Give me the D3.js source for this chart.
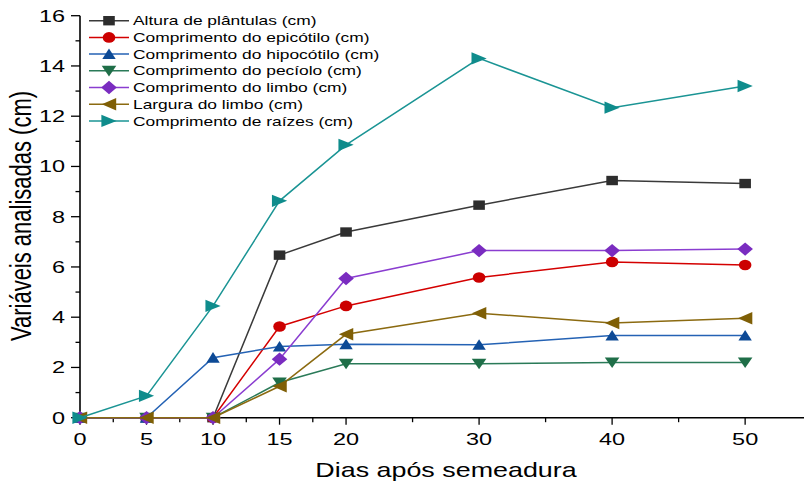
<!DOCTYPE html>
<html><head><meta charset="utf-8">
<script src="https://cdn.jsdelivr.net/npm/d3@7/dist/d3.min.js"></script>
<style>body{margin:0;background:#fff}svg{display:block}text{font-family:"Liberation Sans",Arial,sans-serif}</style>
</head><body>
<svg id="c" width="804" height="481"></svg>
<script>
const days = [0, 5, 10, 15, 20, 30, 40, 50];
const altura = [0, 0, 0, 6.47, 7.39, 8.46, 9.44, 9.32];
const epicotilo = [0, 0, 0, 3.63, 4.45, 5.58, 6.2, 6.08];
const hipocotilo = [0, 0, 2.39, 2.83, 2.92, 2.9, 3.27, 3.27];
const peciolo = [0, 0, 0, 1.4, 2.15, 2.15, 2.2, 2.2];
const limbo = [0, 0, 0, 2.33, 5.54, 6.65, 6.65, 6.71];
const largura = [0, 0, 0, 1.25, 3.32, 4.16, 3.77, 3.96];
const raizes = [0, 0.87, 4.45, 8.63, 10.86, 14.3, 12.34, 13.2];
const seriesNames = ["Altura de plântulas (cm)","Comprimento do epicótilo (cm)","Comprimento do hipocótilo (cm)","Comprimento do pecíolo (cm)","Comprimento do limbo (cm)","Largura do limbo (cm)","Comprimento de raízes (cm)"];
const xTickLabels = [0, 5, 10, 15, 20, 30, 40, 50];
const xMinorTicks = [2.5, 7.5, 12.5, 17.5, 25, 35, 45];
const yTickLabels = [0, 2, 4, 6, 8, 10, 12, 14, 16];

const seriesValues = [altura, epicotilo, hipocotilo, peciolo, limbo, largura, raizes];
const styles = [
  {line:"#3a3a3a", fill:"#2d2d2d", shape:"square"},
  {line:"#d40000", fill:"#cc0000", shape:"circle"},
  {line:"#2462b4", fill:"#0d4a96", shape:"up"},
  {line:"#2a7a58", fill:"#1f6e48", shape:"down"},
  {line:"#8a3dd0", fill:"#7a2cc0", shape:"diamond"},
  {line:"#8b6a10", fill:"#7f5f06", shape:"left"},
  {line:"#1a9494", fill:"#0f8c8c", shape:"right"}
];
const SX = 1.38;
const svg = d3.select("#c");
const x = d3.scaleLinear().domain([0, 54.5]).range([80, 805]);
const y = d3.scaleLinear().domain([0, 16]).range([417.7, 15.7]);

function shapePath(s){
  switch(s){
    case "square": return "M-5.8,-4.7H5.8V4.7H-5.8Z";
    case "circle": return "M-6.3,0A6.3,5.3 0 1,0 6.3,0A6.3,5.3 0 1,0 -6.3,0Z";
    case "up": return "M0,-5.6L6.7,5L-6.7,5Z";
    case "down": return "M0,5.6L7.3,-5L-7.3,-5Z";
    case "diamond": return "M0,-6.7L7.8,0L0,6.7L-7.8,0Z";
    case "left": return "M-7.2,0L7.2,-6.2L7.2,6.2Z";
    case "right": return "M7.6,0L-7.6,-6.2L-7.6,6.2Z";
  }
}

// axes
const gx = svg.append("g");
gx.append("line").attr("x1",80).attr("x2",804).attr("y1",y(0)).attr("y2",y(0)).attr("stroke","#000").attr("stroke-width",1.6);
xTickLabels.forEach(v=>{
  gx.append("line").attr("x1",x(v)).attr("x2",x(v)).attr("y1",y(0)).attr("y2",y(0)+7).attr("stroke","#000").attr("stroke-width",1.3);
  gx.append("text").attr("transform",`translate(${x(v)},445) scale(${SX},1)`).attr("text-anchor","middle").attr("font-size",17).text(v);
});
xMinorTicks.forEach(v=>{
  gx.append("line").attr("x1",x(v)).attr("x2",x(v)).attr("y1",y(0)).attr("y2",y(0)+4.5).attr("stroke","#000").attr("stroke-width",1.3);
});
const gy = svg.append("g");
gy.append("line").attr("x1",80).attr("x2",80).attr("y1",y(0)).attr("y2",y(16)).attr("stroke","#000").attr("stroke-width",1.6);
yTickLabels.forEach(v=>{
  gy.append("line").attr("x1",71).attr("x2",80).attr("y1",y(v)).attr("y2",y(v)).attr("stroke","#000").attr("stroke-width",1.3);
  gy.append("text").attr("transform",`translate(65,${y(v)+6}) scale(${SX},1)`).attr("text-anchor","end").attr("font-size",17).text(v);
});
for(let v=1; v<16; v+=2){
  gy.append("line").attr("x1",75.5).attr("x2",80).attr("y1",y(v)).attr("y2",y(v)).attr("stroke","#000").attr("stroke-width",1.3);
}
svg.append("text").attr("transform",`translate(446,477) scale(1.28,1)`).attr("text-anchor","middle").attr("font-size",21).text("Dias após semeadura");
svg.append("text").attr("transform",`translate(31,216) rotate(-90) scale(1,${SX})`).attr("text-anchor","middle").attr("font-size",22).text("Variáveis analisadas (cm)");

// series
const lineGen = d3.line().x(d=>x(d[0])).y(d=>y(d[1]));
seriesValues.forEach((vals,i)=>{
  const pts = days.map((d,j)=>[d, vals[j]]);
  const g = svg.append("g");
  g.append("path").attr("d", lineGen(pts)).attr("fill","none").attr("stroke",styles[i].line).attr("stroke-width",1.5);
  g.selectAll("path.m").data(pts).enter().append("path").attr("class","m")
    .attr("d", shapePath(styles[i].shape))
    .attr("transform", d=>`translate(${x(d[0])},${y(d[1])})`)
    .attr("fill", styles[i].fill);
});

// legend
const lg = svg.append("g");
seriesNames.forEach((n,i)=>{
  const ry = 20.7 + i*16.7;
  lg.append("line").attr("x1",89).attr("x2",129).attr("y1",ry).attr("y2",ry).attr("stroke",styles[i].line).attr("stroke-width",1.5);
  lg.append("path").attr("d",shapePath(styles[i].shape)).attr("transform",`translate(109,${ry})`).attr("fill",styles[i].fill);
  lg.append("text").attr("transform",`translate(133,${ry+4.6}) scale(${SX},1)`).attr("font-size",12.6).text(n);
});
</script>
</body></html>
